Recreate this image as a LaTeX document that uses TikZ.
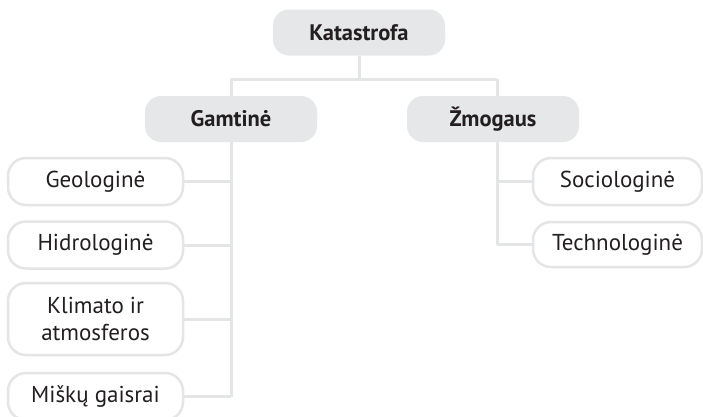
\documentclass[tikz,border=0pt]{standalone}
\usepackage{fontspec}
\setmainfont{PT Sans}
\definecolor{boxgray}{HTML}{E6E7E8}
\definecolor{linegray}{HTML}{E4E5E6}
\definecolor{txt}{HTML}{231F20}
\begin{document}
\begin{tikzpicture}[x=1pt,y=-1pt,
  topbox/.style={fill=boxgray, rounded corners=16pt, minimum width=172pt, minimum height=46pt,
    inner sep=0pt, text=txt, font=\fontsize{22.5}{27}\selectfont\bfseries},
  leafbox/.style={draw=linegray, line width=2.5pt, fill=white, rounded corners=18pt,
    minimum width=175pt, minimum height=47pt, inner sep=0pt, text=txt, align=center,
    font=\fontsize{23}{27}\selectfont},
  link/.style={draw=linegray, line width=3pt}]
\useasboundingbox (0,0) rectangle (703,416);
\fill[white] (0,0) rectangle (703,416);
% top level
\node[topbox] (kat) at (359,32.5) {Katastrofa};
\node[topbox] (gam) at (231,119) {Gamtinė};
\node[topbox] (zm) at (493,119) {Žmogaus};
% left leaves
\node[leafbox] (geo) at (95.5,181.5) {Geologinė};
\node[leafbox] (hid) at (95.5,245) {Hidrologinė};
\node[leafbox, minimum height=72pt] (kli) at (95.5,319) {Klimato ir\\atmosferos};
\node[leafbox] (mis) at (95.5,396.5) {Miškų gaisrai};
% right leaves
\node[leafbox, minimum width=169pt] (soc) at (617.5,181.5) {Sociologinė};
\node[leafbox, minimum width=169pt, minimum height=45pt] (tec) at (617.5,244.5) {Technologinė};
% junctions
\coordinate (hj) at (359,79);
\coordinate (zj) at (497,79);
% connectors
\draw[link] (kat.south) -- (hj);
\draw[link] (gam.north |- hj) -- (zj);
\draw[link] (gam.north |- hj) -- (gam.north);
\draw[link] (zj) -- (zj |- zm.north);
\draw[link] (gam.south) -- (gam.south |- mis.east);
\draw[link] (geo.east) -- (geo.east -| gam.south);
\draw[link] (hid.east) -- (hid.east -| gam.south);
\draw[link] (kli.east) -- (kli.east -| gam.south);
\draw[link] (mis.east) -- (mis.east -| gam.south);
\draw[link] (zj |- zm.south) -- (zj |- tec.west);
\draw[link] (soc.west) -- (soc.west -| zj);
\draw[link] (tec.west) -- (tec.west -| zj);
\end{tikzpicture}
\end{document}
